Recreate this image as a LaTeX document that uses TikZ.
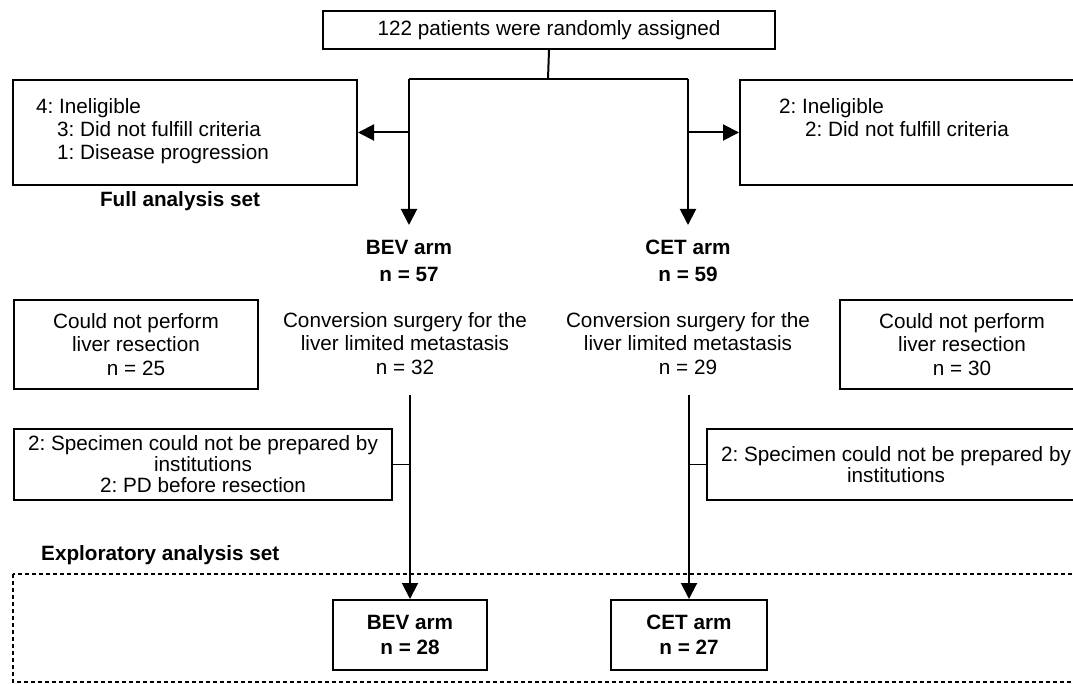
\documentclass[tikz,border=0pt]{standalone}
\usepackage{fontspec}
\setmainfont{Liberation Sans}
\usetikzlibrary{arrows.meta}
\frenchspacing
\begin{document}
\frenchspacing
\begin{tikzpicture}[x=1pt,y=-1pt,
  font=\fontsize{20.7}{23.5}\selectfont,
  box/.style={draw,line width=2pt,inner sep=0pt,anchor=north west,align=center},
  txt/.style={inner sep=0pt},
  bld/.style={inner sep=0pt,font=\fontsize{20.7}{23.5}\selectfont\bfseries},
  conn/.style={line width=2pt},
  thinconn/.style={line width=1.4pt},
  arr/.style={line width=2pt,-{Triangle[length=16pt,width=16pt]}},
  dotbox/.style={line width=2.2pt,dash pattern=on 4pt off 3pt}]
\useasboundingbox (0,0) rectangle (1073,684);
\clip (0,0) rectangle (1073,684);
% top
\node[box,minimum width=452pt,minimum height=38pt] (top) at (322,10) {122 patients were randomly assigned};
\coordinate (sp) at (548,79);
\coordinate (spl) at (409,79);
\coordinate (spr) at (688,79);
% ineligible boxes
\node[box,minimum width=344pt,minimum height=105pt] (inl) at (12,79) {};
\node[txt,anchor=base west] (inl1) at (36,114) {4: Ineligible};
\node[txt,anchor=base west] (inl2) at (57,137) {3: Did not fulfill criteria};
\node[txt,anchor=base west] (inl3) at (57,160) {1: Disease progression};
\node[box,minimum width=344pt,minimum height=105pt] (inr) at (739,79) {};
\node[txt,anchor=base west] (inr1) at (779,114) {2: Ineligible};
\node[txt,anchor=base west] (inr2) at (805,137) {2: Did not fulfill criteria};
% full analysis set
\node[bld,anchor=base] (fas) at (180,207) {Full analysis set};
% arms
\node[bld,anchor=north,align=center] (bev1) at (409,240) {BEV arm\\[3.5pt]n = 57};
\node[bld,anchor=north,align=center] (cet1) at (688,240) {CET arm\\[3.5pt]n = 59};
% could not perform
\node[box,minimum width=244pt,minimum height=89pt] (cnl) at (13,299) {Could not perform\\liver resection\\n = 25};
\node[box,minimum width=244pt,minimum height=89pt] (cnr) at (839,299) {Could not perform\\liver resection\\n = 30};
% conversion
\node[txt,anchor=north,align=center] (convl) at (405,312) {Conversion surgery for the\\liver limited metastasis\\n = 32};
\node[txt,anchor=north,align=center] (convr) at (688,312) {Conversion surgery for the\\liver limited metastasis\\n = 29};
% specimen boxes
\node[box,minimum width=378pt,minimum height=71pt] (spcl) at (13,428) {2: Specimen could not be prepared by\\[-2.5pt]institutions\\[-2.5pt]2: PD before resection};
\node[box,minimum width=378pt,minimum height=71pt] (spcr) at (706,428) {2: Specimen could not be prepared by\\[-3pt]institutions};
% exploratory
\node[bld,anchor=base west] (eas) at (41,560) {Exploratory analysis set};
\draw[dotbox] (13,574) rectangle (1110,682);
\node[box,minimum width=154pt,minimum height=70pt,font=\fontsize{20.7}{25}\selectfont\bfseries] (bev2) at (332,599) {BEV arm\\n = 28};
\node[box,minimum width=156pt,minimum height=70pt,font=\fontsize{20.7}{25}\selectfont\bfseries] (cet2) at (610,599) {CET arm\\n = 27};
% connectors
\draw[conn] (top.south) -- (sp);
\draw[conn] (spl) -- (spr);
\draw[arr,shorten >=15pt] (spl) -- (bev1.north);
\draw[arr,shorten >=15pt] (spr) -- (cet1.north);
\draw[arr] (spl |- inl.east) -- (inl.east);
\draw[arr] (spr |- inr.west) -- (inr.west);
\draw[arr,shorten <=20pt] (convl.south -| bev2.north) -- (bev2.north);
\draw[arr,shorten <=20pt] (convr.south -| cet2.north) -- (cet2.north);
\draw[thinconn] (spcl.east) -- (spcl.east -| bev2.north);
\draw[thinconn] (spcr.west) -- (spcr.west -| cet2.north);
\end{tikzpicture}
\end{document}
